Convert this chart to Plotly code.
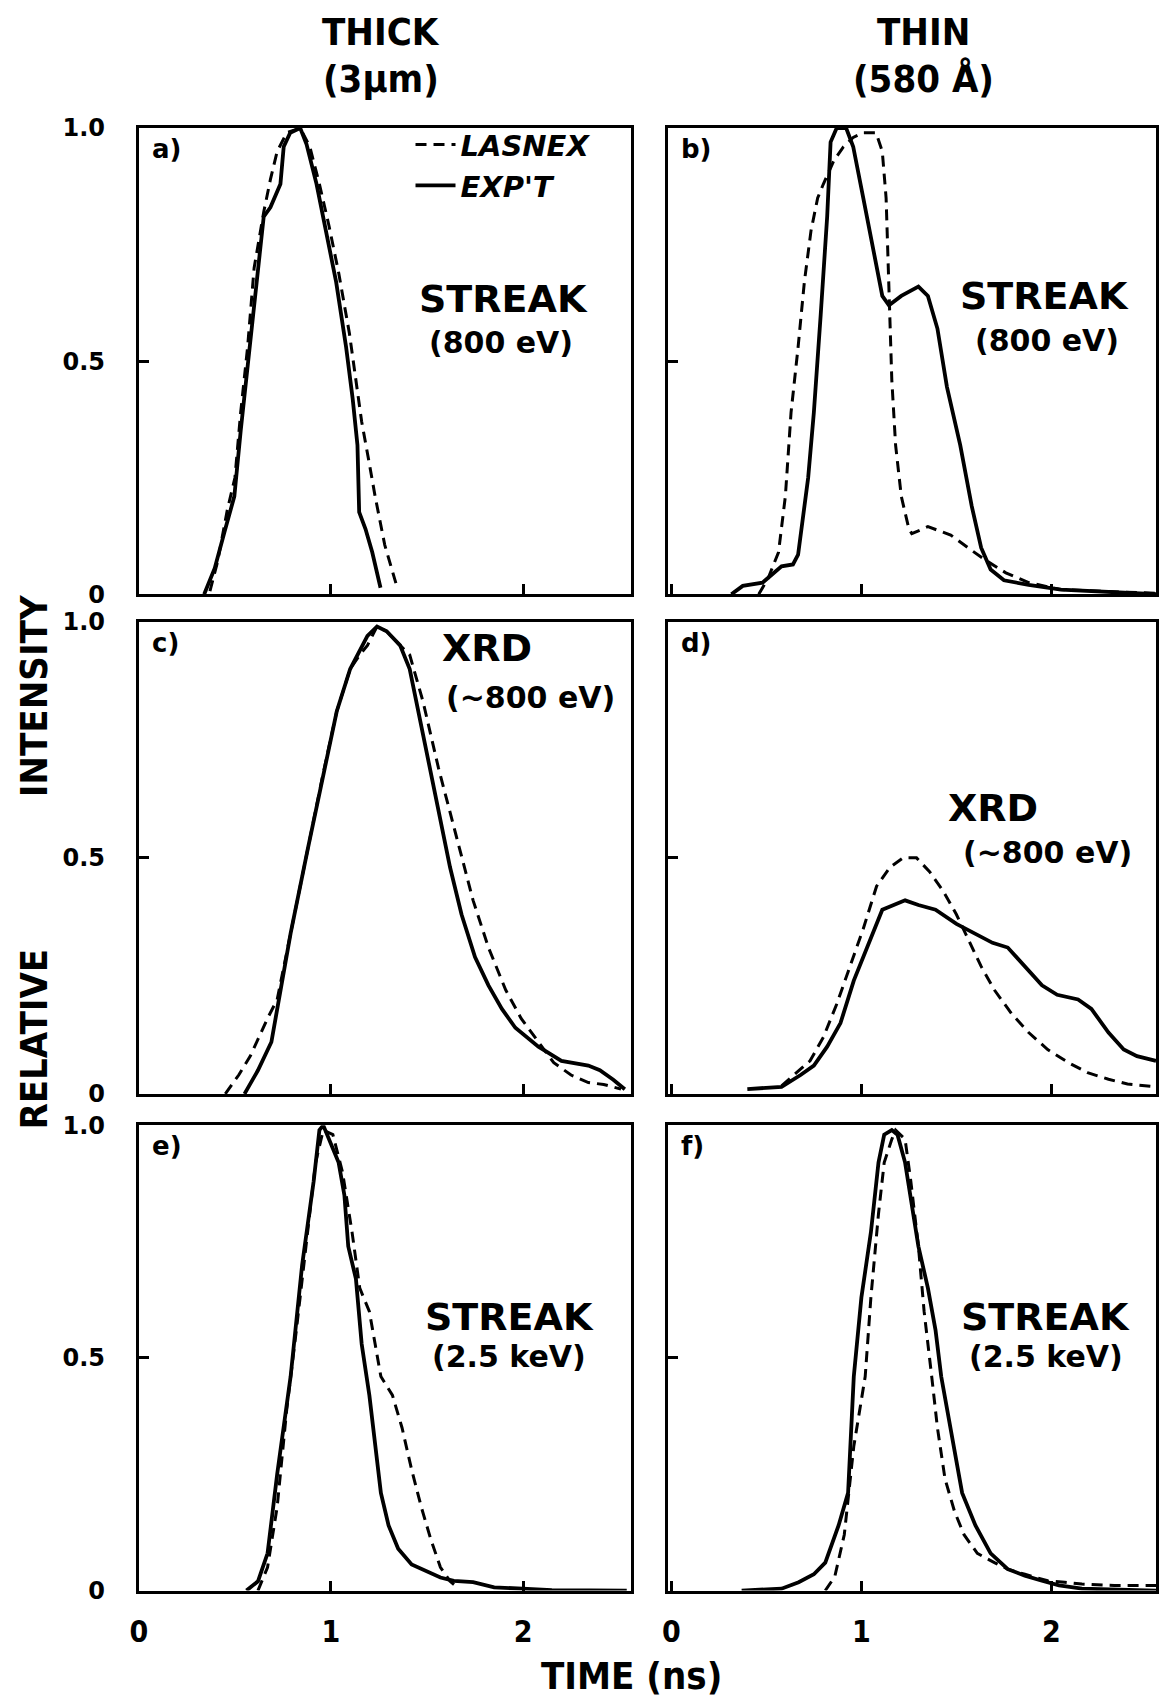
import plotly.graph_objects as go
from plotly.subplots import make_subplots

# ---------------- data (time in ns, relative intensity) ----------------
# a) THICK, STREAK 800 eV
a_lasnex_t = [0.37, 0.41, 0.46, 0.50, 0.53, 0.566, 0.60, 0.65, 0.685, 0.72, 0.77, 0.84, 0.89, 0.94, 0.99, 1.04, 1.096, 1.13, 1.16, 1.20, 1.23, 1.28, 1.345]
a_lasnex_y = [0.007, 0.07, 0.18, 0.25, 0.39, 0.53, 0.70, 0.82, 0.89, 0.95, 0.99, 1.0, 0.96, 0.88, 0.79, 0.69, 0.56, 0.46, 0.37, 0.28, 0.21, 0.106, 0.014]
a_expt_t = [0.34, 0.395, 0.446, 0.497, 0.53, 0.566, 0.617, 0.65, 0.685, 0.737, 0.754, 0.788, 0.84, 0.873, 0.925, 0.976, 1.027, 1.079, 1.113, 1.138, 1.147, 1.18, 1.215, 1.258]
a_expt_y = [0.0, 0.056, 0.134, 0.21, 0.35, 0.49, 0.67, 0.81, 0.83, 0.88, 0.96, 0.99, 1.0, 0.965, 0.88, 0.775, 0.67, 0.53, 0.42, 0.32, 0.176, 0.14, 0.09, 0.014]

# b) THIN, STREAK 800 eV
b_lasnex_t = [0.46, 0.51, 0.564, 0.60, 0.63, 0.667, 0.70, 0.735, 0.77, 0.80, 0.855, 0.906, 0.957, 1.01, 1.077, 1.11, 1.13, 1.145, 1.16, 1.18, 1.21, 1.25, 1.265, 1.35, 1.47, 1.56, 1.65, 1.76, 1.88, 2.05, 2.22, 2.39, 2.55]
b_lasnex_y = [0.0, 0.035, 0.09, 0.21, 0.39, 0.53, 0.67, 0.78, 0.85, 0.88, 0.93, 0.96, 0.98, 0.99, 0.99, 0.95, 0.85, 0.67, 0.46, 0.32, 0.21, 0.14, 0.13, 0.145, 0.127, 0.10, 0.074, 0.046, 0.025, 0.01, 0.007, 0.004, 0.002]
b_expt_t = [0.316, 0.376, 0.48, 0.53, 0.58, 0.64, 0.667, 0.72, 0.75, 0.786, 0.82, 0.838, 0.87, 0.92, 0.957, 1.01, 1.06, 1.11, 1.145, 1.21, 1.30, 1.35, 1.40, 1.45, 1.52, 1.58, 1.63, 1.68, 1.75, 1.88, 2.05, 2.30, 2.55]
b_expt_y = [0.0, 0.018, 0.025, 0.042, 0.06, 0.064, 0.085, 0.25, 0.39, 0.60, 0.81, 0.97, 1.0, 1.0, 0.96, 0.85, 0.74, 0.64, 0.62, 0.64, 0.66, 0.64, 0.57, 0.445, 0.32, 0.19, 0.10, 0.053, 0.03, 0.02, 0.01, 0.004, 0.0]

# c) THICK, XRD ~800 eV
c_lasnex_t = [0.45, 0.52, 0.58, 0.67, 0.72, 0.79, 0.88, 0.96, 1.03, 1.10, 1.15, 1.19, 1.24, 1.29, 1.36, 1.41, 1.48, 1.56, 1.65, 1.74, 1.82, 1.91, 1.99, 2.08, 2.16, 2.25, 2.34, 2.42, 2.51]
c_lasnex_y = [0.0, 0.04, 0.08, 0.16, 0.20, 0.34, 0.52, 0.68, 0.81, 0.90, 0.93, 0.95, 0.99, 0.98, 0.95, 0.93, 0.83, 0.69, 0.55, 0.41, 0.31, 0.22, 0.16, 0.11, 0.066, 0.04, 0.024, 0.02, 0.01]
c_expt_t = [0.55, 0.62, 0.69, 0.72, 0.79, 0.88, 0.96, 1.03, 1.10, 1.15, 1.19, 1.24, 1.29, 1.36, 1.41, 1.48, 1.55, 1.62, 1.68, 1.75, 1.82, 1.89, 1.96, 2.08, 2.20, 2.34, 2.40, 2.47, 2.53]
c_expt_y = [0.0, 0.05, 0.11, 0.18, 0.34, 0.52, 0.68, 0.81, 0.90, 0.94, 0.97, 0.99, 0.98, 0.95, 0.90, 0.76, 0.62, 0.48, 0.38, 0.29, 0.23, 0.18, 0.14, 0.10, 0.07, 0.06, 0.05, 0.03, 0.01]

# d) THIN, XRD ~800 eV
d_lasnex_t = [0.58, 0.66, 0.73, 0.80, 0.87, 0.94, 1.01, 1.08, 1.15, 1.22, 1.29, 1.36, 1.43, 1.50, 1.57, 1.63, 1.70, 1.79, 1.88, 1.98, 2.09, 2.19, 2.30, 2.40, 2.55]
d_lasnex_y = [0.017, 0.045, 0.07, 0.12, 0.19, 0.27, 0.35, 0.44, 0.48, 0.50, 0.50, 0.47, 0.43, 0.38, 0.32, 0.27, 0.22, 0.17, 0.13, 0.094, 0.066, 0.045, 0.031, 0.021, 0.015]
d_expt_t = [0.40, 0.47, 0.58, 0.68, 0.75, 0.82, 0.89, 0.96, 1.03, 1.11, 1.17, 1.23, 1.30, 1.39, 1.50, 1.60, 1.69, 1.77, 1.86, 1.95, 2.03, 2.14, 2.21, 2.30, 2.38, 2.45, 2.55]
d_expt_y = [0.01, 0.012, 0.015, 0.04, 0.06, 0.10, 0.15, 0.24, 0.31, 0.39, 0.40, 0.41, 0.40, 0.39, 0.36, 0.34, 0.32, 0.31, 0.27, 0.23, 0.21, 0.20, 0.18, 0.13, 0.094, 0.08, 0.07]

# e) THICK, STREAK 2.5 keV
e_lasnex_t = [0.62, 0.67, 0.72, 0.77, 0.82, 0.87, 0.92, 0.96, 1.01, 1.06, 1.11, 1.15, 1.20, 1.23, 1.26, 1.32, 1.37, 1.42, 1.47, 1.52, 1.57, 1.62, 1.65]
e_lasnex_y = [0.0, 0.05, 0.18, 0.39, 0.56, 0.74, 0.92, 0.99, 0.98, 0.90, 0.77, 0.65, 0.60, 0.53, 0.46, 0.42, 0.35, 0.26, 0.18, 0.11, 0.05, 0.02, 0.01]
e_expt_t = [0.56, 0.62, 0.67, 0.72, 0.79, 0.85, 0.91, 0.94, 0.96, 0.99, 1.04, 1.07, 1.09, 1.13, 1.16, 1.20, 1.23, 1.26, 1.30, 1.35, 1.42, 1.49, 1.57, 1.64, 1.74, 1.85, 1.98, 2.15, 2.54]
e_expt_y = [0.0, 0.02, 0.08, 0.25, 0.46, 0.70, 0.88, 0.99, 1.0, 0.97, 0.92, 0.85, 0.74, 0.67, 0.53, 0.42, 0.32, 0.21, 0.14, 0.09, 0.056, 0.042, 0.028, 0.021, 0.018, 0.007, 0.004, 0.001, 0.0]

# f) THIN, STREAK 2.5 keV
f_lasnex_t = [0.81, 0.86, 0.91, 0.96, 1.02, 1.05, 1.09, 1.12, 1.16, 1.18, 1.23, 1.26, 1.30, 1.33, 1.37, 1.40, 1.44, 1.49, 1.54, 1.61, 1.70, 1.77, 1.86, 1.98, 2.07, 2.16, 2.33, 2.55]
f_lasnex_y = [0.0, 0.03, 0.12, 0.31, 0.46, 0.63, 0.81, 0.92, 0.97, 0.99, 0.97, 0.88, 0.74, 0.60, 0.46, 0.35, 0.24, 0.17, 0.12, 0.08, 0.06, 0.046, 0.035, 0.021, 0.018, 0.014, 0.011, 0.011]
f_expt_t = [0.37, 0.58, 0.67, 0.75, 0.81, 0.88, 0.93, 0.96, 1.0, 1.05, 1.09, 1.12, 1.16, 1.19, 1.23, 1.26, 1.30, 1.35, 1.39, 1.42, 1.47, 1.53, 1.60, 1.68, 1.77, 1.86, 1.95, 2.04, 2.16, 2.55]
f_expt_y = [0.0, 0.004, 0.018, 0.035, 0.06, 0.14, 0.21, 0.46, 0.63, 0.77, 0.92, 0.98, 0.99, 0.98, 0.92, 0.84, 0.74, 0.65, 0.56, 0.46, 0.35, 0.21, 0.14, 0.08, 0.046, 0.032, 0.021, 0.011, 0.004, 0.0]

panel_letters = ["a)", "b)", "c)", "d)", "e)", "f)"]
panel_labels = [("STREAK", "(800 eV)"), ("STREAK", "(800 eV)"),
                ("XRD", "(~800 eV)"), ("XRD", "(~800 eV)"),
                ("STREAK", "(2.5 keV)"), ("STREAK", "(2.5 keV)")]
column_titles = [("THICK", "(3µm)"), ("THIN", "(580 Å)")]
x_ticks = [0, 1, 2]
x_tick_text = ["0", "1", "2"]
y_ticks = [0, 0.5, 1.0]
y_tick_text = ["0", "0.5", "1.0"]
series_names = ["LASNEX", "EXP'T"]

# ---------------- figure ----------------
W, H = 1159, 1698
FONT = "DejaVu Sans"
COND = "DejaVu Sans Condensed, DejaVu Sans"

fig = make_subplots(rows=3, cols=2)

panels = [
    (a_lasnex_t, a_lasnex_y, a_expt_t, a_expt_y),
    (b_lasnex_t, b_lasnex_y, b_expt_t, b_expt_y),
    (c_lasnex_t, c_lasnex_y, c_expt_t, c_expt_y),
    (d_lasnex_t, d_lasnex_y, d_expt_t, d_expt_y),
    (e_lasnex_t, e_lasnex_y, e_expt_t, e_expt_y),
    (f_lasnex_t, f_lasnex_y, f_expt_t, f_expt_y),
]

for i, (lt, ly, et, ey) in enumerate(panels):
    r, c = i // 2 + 1, i % 2 + 1
    fig.add_trace(go.Scatter(x=lt, y=ly, mode="lines", name="<b><i>" + series_names[0] + "</i></b>",
                             line=dict(color="black", width=3, dash="11px,7px"),
                             showlegend=(i == 0), legendrank=1), row=r, col=c)
    fig.add_trace(go.Scatter(x=et, y=ey, mode="lines", name="<b><i>" + series_names[1] + "</i></b>",
                             line=dict(color="black", width=3.8),
                             showlegend=(i == 0), legendrank=2), row=r, col=c)

# pixel layout of the panels
col_px = [(131, 627), (665, 1157)]
row_px = [(116, 590), (618, 1098), (1130, 1603)]
col_range = [[0, 2.56], [-0.016, 2.55]]

for i in range(6):
    r, c = i // 2, i % 2
    n = "" if i == 0 else str(i + 1)
    x0, x1 = col_px[c]
    y0, y1 = row_px[r]
    fig.layout["xaxis" + n].update(
        domain=[x0 / W, x1 / W], range=col_range[c], showline=True, mirror=True,
        linecolor="black", linewidth=3, ticks="inside", ticklen=10, tickwidth=2.5,
        tickcolor="black", tickvals=x_ticks, ticktext=x_tick_text,
        showticklabels=(r == 2), showgrid=False, zeroline=False,
        tickfont=dict(family=COND, size=30, color="black", weight="bold"), ticklabelstandoff=12)
    fig.layout["yaxis" + n].update(
        domain=[1 - y1 / H, 1 - y0 / H], range=[0, 1.0], showline=True, mirror=True,
        linecolor="black", linewidth=3, ticks="inside", ticklen=10, tickwidth=2.5,
        tickcolor="black", tickvals=y_ticks, ticktext=y_tick_text,
        showticklabels=(c == 0), showgrid=False, zeroline=False,
        tickfont=dict(family=FONT, size=24, color="black", weight="bold"), ticklabelstandoff=26)

annotations = []
label_pos = [
    ((0.741, 0.634), (0.737, 0.541)),
    ((0.771, 0.640), (0.777, 0.545)),
    ((0.709, 0.945), (0.796, 0.840)),
    ((0.665, 0.606), (0.777, 0.512)),
    ((0.753, 0.588), (0.753, 0.503)),
    ((0.774, 0.588), (0.774, 0.503)),
]
for i in range(6):
    n = "" if i == 0 else str(i + 1)
    xr, yr = "x" + n + " domain", "y" + n + " domain"
    annotations.append(dict(text="<b>" + panel_letters[i] + "</b>", xref=xr, yref=yr,
                            x=0.022, y=0.955, xanchor="left", yanchor="middle", showarrow=False,
                            font=dict(family=FONT, size=26, color="black")))
    (px1, py1), (px2, py2) = label_pos[i]
    annotations.append(dict(text="<b>" + panel_labels[i][0] + "</b>", xref=xr, yref=yr,
                            x=px1, y=py1, xanchor="center", yanchor="middle", showarrow=False,
                            font=dict(family=FONT, size=38, color="black")))
    annotations.append(dict(text="<b>" + panel_labels[i][1] + "</b>", xref=xr, yref=yr,
                            x=px2, y=py2, xanchor="center", yanchor="middle", showarrow=False,
                            font=dict(family=FONT, size=30, color="black")))

# column titles
for (t1, t2), cx in zip(column_titles, [375, 922]):
    annotations.append(dict(text="<b>" + t1 + "</b>", xref="paper", yref="paper",
                            x=cx / W, y=1 - 18 / H, xanchor="center", yanchor="middle",
                            showarrow=False, font=dict(family=COND, size=38, color="black")))
    annotations.append(dict(text="<b>" + t2 + "</b>", xref="paper", yref="paper",
                            x=cx / W, y=1 - 66 / H, xanchor="center", yanchor="middle",
                            showarrow=False, font=dict(family=COND, size=38, color="black")))

# axis titles
annotations.append(dict(text="<b>TIME (ns)</b>", xref="paper", yref="paper",
                        x=628 / W, y=1 - 1690 / H, xanchor="center", yanchor="middle",
                        showarrow=False, font=dict(family=COND, size=38, color="black")))
annotations.append(dict(text="<b>RELATIVE</b>", xref="paper", yref="paper",
                        x=25 / W, y=1 - 1042 / H, xanchor="center", yanchor="middle", textangle=-90,
                        showarrow=False, font=dict(family=COND, size=38, color="black")))
annotations.append(dict(text="<b>INTENSITY</b>", xref="paper", yref="paper",
                        x=25 / W, y=1 - 693 / H, xanchor="center", yanchor="middle", textangle=-90,
                        showarrow=False, font=dict(family=COND, size=38, color="black")))

fig.update_layout(
    width=W, height=H, autosize=False,
    margin=dict(l=0, r=0, t=0, b=0, pad=0),
    paper_bgcolor="white", plot_bgcolor="white",
    annotations=annotations,
    showlegend=True,
    legend=dict(x=405 / W, y=1 - 107 / H, xanchor="left", yanchor="top",
                bgcolor="rgba(0,0,0,0)", borderwidth=0, tracegroupgap=0,
                itemwidth=40, font=dict(family=FONT, size=29, color="black")),
)

fig.write_html("out.html")
